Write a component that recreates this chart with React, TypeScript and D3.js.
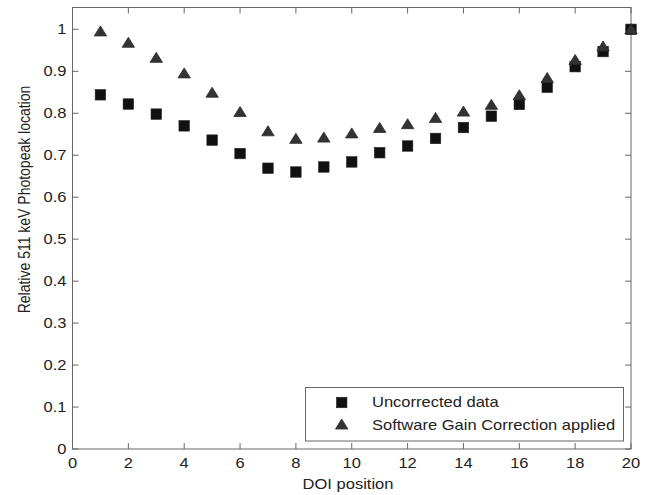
import React from "react";
import * as d3 from "d3";

const positions = [1, 2, 3, 4, 5, 6, 7, 8, 9, 10, 11, 12, 13, 14, 15, 16, 17, 18, 19, 20];
const uncorrected = [0.844, 0.822, 0.798, 0.770, 0.736, 0.704, 0.669, 0.660, 0.672, 0.684, 0.706, 0.722, 0.740, 0.766, 0.793, 0.821, 0.862, 0.911, 0.947, 1.0];
const corrected = [0.995, 0.968, 0.932, 0.895, 0.849, 0.803, 0.757, 0.739, 0.742, 0.752, 0.765, 0.774, 0.789, 0.804, 0.820, 0.843, 0.884, 0.927, 0.959, 1.0];
const xTicks = [0, 2, 4, 6, 8, 10, 12, 14, 16, 18, 20];
const yTicks = [0, 0.1, 0.2, 0.3, 0.4, 0.5, 0.6, 0.7, 0.8, 0.9, 1];
const legendLabels = ["Uncorrected data", "Software Gain Correction applied"];

const W = 653, H = 495;
const L = 72.5, R = 631, T = 7.5, B = 449;
const font = "Liberation Sans, Arial, sans-serif";
const axisColor = "#666";
const textColor = "#222";
const FS = 14;
const SX = 1.18;

function HText({ x, y, anchor = "start", children }: { x: number; y: number; anchor?: string; children: React.ReactNode }) {
  return (
    <text transform={`translate(${x},${y}) scale(${SX},1)`} textAnchor={anchor} fontFamily={font} fontSize={FS} fill={textColor}>
      {children}
    </text>
  );
}

export default function App() {
  const x = d3.scaleLinear().domain([0, 20]).range([L, R]);
  const y = d3.scaleLinear().domain([0, 1.052]).range([B, T]);
  const sq = 10.5;
  const tl = 6;
  const tw = 6.2, th = 10;

  const triangle = (cx: number, cy: number, k: string) => (
    <path key={k} d={`M${cx},${cy - th * 0.55}L${cx + tw},${cy + th * 0.45}L${cx - tw},${cy + th * 0.45}Z`} fill="#333" stroke="#2a2a2a" strokeWidth={0.8} />
  );
  const square = (cx: number, cy: number, k: string) => (
    <rect key={k} x={cx - sq / 2} y={cy - sq / 2} width={sq} height={sq} fill="#111" stroke="#222" strokeWidth={0.6} />
  );

  return (
    <svg width={W} height={H} style={{ position: "absolute", left: 0, top: 0, background: "#fff" }}>
      <rect x={0} y={0} width={W} height={H} fill="#fff" />
      {xTicks.map((t) => (
        <g key={"xt" + t}>
          <line x1={x(t)} x2={x(t)} y1={B} y2={B - tl} stroke={axisColor} />
          <line x1={x(t)} x2={x(t)} y1={T} y2={T + tl} stroke={axisColor} />
          <HText x={x(t)} y={B + 19} anchor="middle">{t}</HText>
        </g>
      ))}
      {yTicks.map((t) => (
        <g key={"yt" + t}>
          <line x1={L} x2={L + tl} y1={y(t)} y2={y(t)} stroke={axisColor} />
          <line x1={R} x2={R - tl} y1={y(t)} y2={y(t)} stroke={axisColor} />
          <HText x={L - 6} y={y(t) + 5} anchor="end">{d3.format("~g")(t)}</HText>
        </g>
      ))}
      <rect x={L} y={T} width={R - L} height={B - T} fill="none" stroke={axisColor} strokeWidth={1} />
      {positions.map((p, i) => square(x(p), y(uncorrected[i]), "s" + i))}
      {positions.map((p, i) => triangle(x(p), y(corrected[i]), "t" + i))}
      <rect x={305.5} y={387.5} width={318} height={53.5} fill="#fff" stroke={axisColor} />
      {square(341.7, 402.5, "ls")}
      {triangle(341.7, 424.5, "lt")}
      {legendLabels.map((lab, i) => (
        <HText key={lab} x={372} y={406.5 + i * 23.5}>{lab}</HText>
      ))}
      <HText x={348} y={489} anchor="middle">DOI position</HText>
      <text transform={`translate(30,199.5) rotate(-90) scale(1,${SX})`} textAnchor="middle" fontFamily={font} fontSize={FS} fill={textColor}>Relative 511 keV Photopeak location</text>
    </svg>
  );
}
